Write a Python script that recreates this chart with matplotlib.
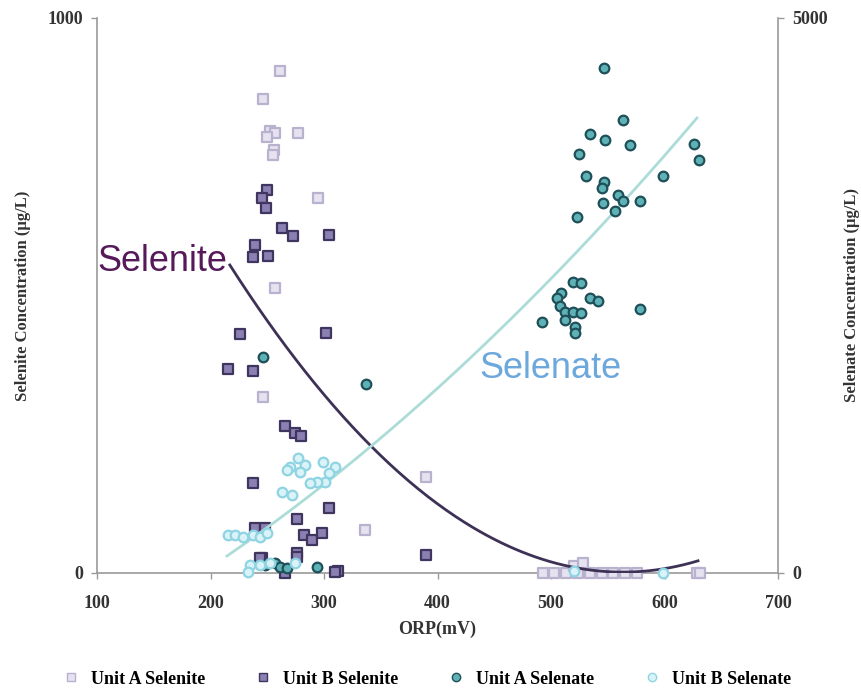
import numpy as np
import matplotlib
matplotlib.use("Agg")
import matplotlib.pyplot as plt
from matplotlib.lines import Line2D

# Unit A selenite (left axis, ug/L)
a_selenite_x = [261, 246, 252, 257, 250, 256, 255, 277, 295, 257, 246, 336, 390,
                493, 503, 513, 524, 534, 545, 555, 565, 576, 629, 631, 520, 528]
a_selenite_y = [904, 854, 796, 792, 786, 762, 753, 793, 676, 514, 317, 77, 173,
                0, 0, 0, 0, 0, 0, 0, 0, 0, 0, 0, 12, 18]

# Unit B selenite (left axis)
b_selenite_x = [250, 245, 249, 263, 273, 304, 239, 237, 251, 226, 302, 215, 237,
                266, 274, 280, 237, 304, 276, 282, 289, 298, 276, 312, 266, 245,
                239, 248, 244, 276, 390, 310]
b_selenite_y = [690, 676, 658, 622, 607, 609, 591, 569, 571, 431, 432, 368, 364,
                265, 252, 247, 162, 117, 97, 68, 59, 72, 36, 4, 0, 27,
                81, 81, 27, 29, 32, 2]

# Unit A selenate (right axis)
a_selenate_x = [547, 563, 534, 548, 570, 525, 626, 630, 531, 599, 547, 545, 559,
                563, 546, 578, 556, 523, 519, 526, 534, 541, 509, 505, 578, 508,
                512, 519, 526, 492, 512, 521, 521, 246, 337, 257, 261, 267, 294, 248]
a_selenate_y = [4550, 4081, 3955, 3901, 3856, 3775, 3865, 3721, 3577, 3577, 3523,
                3468, 3405, 3351, 3333, 3351, 3261, 3207, 2622, 2613, 2477, 2450,
                2523, 2477, 2378, 2405, 2351, 2351, 2342, 2261, 2279, 2216, 2162,
                1946, 1703, 90, 54, 45, 54, 72]

# Unit B selenate (right axis)
b_selenate_x = [270, 277, 283, 279, 267, 299, 310, 304, 301, 294, 288, 263, 272,
                215, 222, 229, 237, 244, 250, 235, 244, 252, 274, 233, 599, 520]
b_selenate_y = [955, 1036, 973, 910, 928, 1000, 955, 901, 820, 820, 811, 730, 703,
                342, 342, 324, 342, 324, 360, 72, 72, 90, 90, 9, 0, 20]

# trend lines (quadratic coefficients)
selenite_fit = [0.004617, -5.2005, 1466.0]
selenite_range = [217, 629.5]
selenate_fit = [0.006052, 4.427, -1075.1]
selenate_range = [214.5, 628.6]

serif = "Liberation Serif"

fig = plt.figure(figsize=(8.61, 6.91), dpi=100)
ax = fig.add_axes([0.1127, 0.1708, 0.7909, 0.8032])
ax2 = ax.twinx()

for a in (ax, ax2):
    a.spines["top"].set_visible(False)
    for s in ("left", "right", "bottom"):
        a.spines[s].set_color("#9a9a9a")
        a.spines[s].set_linewidth(1.2)
    a.tick_params(colors="#9a9a9a", length=4, width=1, pad=6)
ax.spines["right"].set_visible(False)
ax2.spines["left"].set_visible(False)
ax2.spines["bottom"].set_visible(False)
ax.tick_params(axis="x", pad=12)

ax.set_xlim(100, 700)
ax.set_ylim(0, 1000)
ax2.set_ylim(0, 5000)
ax.set_xticks(np.arange(100, 701, 100))
ax.set_yticks([0, 1000])
ax2.set_yticks([0, 5000])

for lab in ax.get_xticklabels() + ax.get_yticklabels() + ax2.get_yticklabels():
    lab.set_fontfamily(serif)
    lab.set_fontweight("bold")
    lab.set_fontsize(13)
    lab.set_color("#333333")

ax.set_xlabel("ORP(mV)", fontfamily=serif, fontweight="bold", fontsize=13,
              color="#333333", labelpad=6)
ax.set_ylabel("Selenite Concentration (µg/L)", fontfamily=serif, fontweight="bold",
              fontsize=12, color="#333333", labelpad=12)
ax2.set_ylabel("Selenate Concentration (µg/L)", fontfamily=serif, fontweight="bold",
               fontsize=12, color="#333333", labelpad=12)

ms = 48
ax.scatter(a_selenite_x, a_selenite_y, marker="s", s=ms, facecolor="#e6e2f0",
           edgecolor="#b9b2cf", linewidth=1.6, clip_on=False, zorder=3)
ax.scatter(b_selenite_x, b_selenite_y, marker="s", s=ms, facecolor="#8a80b2",
           edgecolor="#3f355f", linewidth=1.6, clip_on=False, zorder=3)
ax2.scatter(a_selenate_x, a_selenate_y, marker="o", s=ms, facecolor="#5eb2b6",
            edgecolor="#1f4f58", linewidth=1.6, clip_on=False, zorder=3)
ax2.scatter(b_selenate_x, b_selenate_y, marker="o", s=ms, facecolor="#d9f3f8",
            edgecolor="#8fd4e2", linewidth=1.6, clip_on=False, zorder=3)

xs = np.linspace(selenite_range[0], selenite_range[1], 200)
ax.plot(xs, np.clip(np.polyval(selenite_fit, xs), 0, None), color="#3d3156", lw=2, zorder=4)
xs = np.linspace(selenate_range[0], selenate_range[1], 200)
ax2.plot(xs, np.polyval(selenate_fit, xs), color="#acdcd8", lw=2, zorder=2)

ax.text(100, 562, "Selenite", fontsize=26, color="#561a5a", ha="left", va="center",
        fontfamily="Liberation Sans", zorder=5)
ax.text(437, 369, "Selenate", fontsize=26, color="#6da8dc", ha="left", va="center",
        fontfamily="Liberation Sans", zorder=5)

handles = [
    Line2D([], [], ls="none", marker="s", ms=6, mfc="#e6e2f0", mec="#b9b2cf"),
    Line2D([], [], ls="none", marker="s", ms=6, mfc="#8a80b2", mec="#3f355f"),
    Line2D([], [], ls="none", marker="o", ms=6, mfc="#5eb2b6", mec="#1f4f58"),
    Line2D([], [], ls="none", marker="o", ms=6, mfc="#d9f3f8", mec="#8fd4e2"),
]
labels = ["Unit A Selenite", "Unit B Selenite", "Unit A Selenate", "Unit B Selenate"]
fig.legend(handles, labels, loc="center", bbox_to_anchor=(0.49, 0.017), ncol=4,
           frameon=False, handletextpad=0.1, columnspacing=2.2,
           prop={"family": serif, "weight": "bold", "size": 13})

fig.savefig("out.png", dpi=100)
